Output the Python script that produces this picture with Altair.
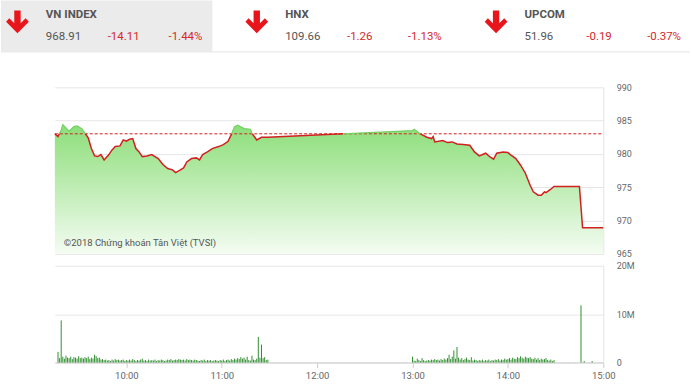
import altair as alt
import pandas as pd

REF = 983.02  # previous close (968.91 + 14.11)

indices = ["VN INDEX", "HNX", "UPCOM"]
index_values = ["968.91", "109.66", "51.96"]
index_changes = ["-14.11", "-1.26", "-0.19"]
index_pcts = ["-1.44%", "-1.13%", "-0.37%"]

price_times = [
    "09:15", "09:17", "09:19", "09:20", "09:22", "09:24", "09:27", "09:29", "09:32", "09:34",
    "09:36", "09:38", "09:40", "09:42", "09:44", "09:46", "09:49", "09:51", "09:53", "09:56",
    "09:58", "10:00", "10:02", "10:04", "10:06", "10:08", "10:10", "10:13", "10:16", "10:18",
    "10:20", "10:23", "10:26", "10:29", "10:31", "10:34", "10:36", "10:38", "10:41", "10:44",
    "10:46", "10:48", "10:51", "10:54", "10:58", "11:01", "11:04", "11:06", "11:08", "11:10",
    "11:14", "11:18", "11:19", "11:22", "11:25", "11:29",
    "13:00", "13:01", "13:05", "13:09", "13:12", "13:13", "13:14", "13:19", "13:22", "13:25",
    "13:28", "13:32", "13:36", "13:39", "13:42", "13:46", "13:49", "13:51", "13:53", "13:57",
    "14:00", "14:02", "14:05", "14:08", "14:11", "14:14", "14:16", "14:19", "14:21", "14:23",
    "14:24", "14:27", "14:29", "14:45", "14:47", "15:00",
]
price_values = [
    983.0, 982.6, 983.6, 984.4, 983.9, 983.4, 984.1, 984.2, 983.8, 983.1,
    982.4, 980.8, 979.7, 979.6, 979.9, 979.1, 979.9, 980.6, 981.1, 981.2,
    982.1, 981.9, 982.2, 982.3, 980.8, 980.3, 979.6, 979.7, 979.9, 979.6,
    979.3, 978.4, 977.8, 977.6, 977.2, 977.6, 977.9, 978.8, 979.3, 979.4,
    979.1, 979.9, 980.3, 980.8, 981.1, 981.4, 981.9, 982.9, 984.1, 984.3,
    983.8, 983.7, 983.1, 982.1, 982.5, 982.5,
    983.5, 983.7, 983.0, 982.5, 982.3, 982.6, 981.8, 982.0, 981.7, 981.8,
    981.5, 981.4, 981.3, 980.3, 979.7, 980.1, 979.5, 979.2, 980.1, 980.3,
    980.2, 979.8, 979.3, 978.3, 977.1, 975.3, 974.3, 973.8, 973.8, 974.3,
    974.2, 974.7, 975.1, 975.1, 968.9, 968.9,
]

# volume in millions, one bar per minute
vol_am_start = "09:17"
vol_am = [
    2.2, 0.9, 8.7, 1.2, 0.8, 1.4, 1.0, 0.9, 1.2, 0.7, 1.1, 1.0, 0.8, 1.3, 0.9,
    1.0, 0.8, 1.1, 0.9, 1.2, 0.7, 1.0, 0.8, 1.6, 1.3, 0.9, 1.0, 0.6, 0.7, 0.5,
    0.6, 0.4, 0.5, 0.3, 0.6, 0.4, 0.7, 0.5, 0.6, 0.4, 0.5, 0.6, 0.3, 0.5, 0.4,
    0.6, 0.4, 0.7, 0.5, 0.3, 0.5, 0.4, 0.6, 0.8, 0.4, 0.5, 0.3, 0.6, 0.4, 0.5,
    0.4, 0.6, 0.3, 0.5, 0.4, 0.6, 0.5, 0.3, 0.4, 0.6, 0.5, 0.7, 0.4, 0.5, 0.6,
    0.5, 0.7, 0.6, 0.5, 0.6, 0.4, 0.7, 0.5, 0.6, 0.5, 0.4, 0.6, 0.5, 0.4, 0.3,
    0.5, 0.4, 0.6, 0.3, 0.5, 0.4, 0.5, 0.3, 0.4, 0.5, 0.4, 0.3, 0.5, 0.4, 0.6,
    0.3, 0.5, 0.6, 0.4, 0.7, 0.5, 0.8, 0.6, 0.9, 0.7, 1.1, 0.8, 1.0, 0.6, 1.2,
    0.5, 0.4, 1.4, 0.6, 0.5, 0.8, 5.3, 1.0, 3.7, 0.9, 1.1, 0.5, 0.6,
]
vol_pm_start = "13:00"
vol_pm = [
    1.2, 0.4, 0.3, 0.8, 0.5, 0.3, 0.9, 0.5, 0.3, 0.4, 0.5, 0.4, 0.6, 0.5, 0.7,
    0.5, 0.6, 0.4, 0.7, 0.5, 0.8, 0.6, 0.9, 1.6, 0.7, 1.2, 2.5, 0.8, 3.2, 1.0,
    0.6, 0.9, 0.5, 0.7, 1.0, 0.6, 0.5, 1.1, 0.4, 0.6, 0.5, 0.3, 0.5, 0.4, 0.6,
    0.3, 0.5, 0.4, 0.6, 0.3, 0.5, 0.4, 0.6, 0.5, 0.7, 0.4, 0.6, 0.5, 0.8, 0.6,
    0.7, 0.9, 0.6, 1.0, 0.8, 0.7, 1.1, 0.9, 1.3, 1.0, 0.8, 1.2, 1.0, 0.9, 1.1,
    0.8, 0.7, 1.0, 0.6, 0.9, 0.5, 0.8, 0.6, 0.7, 0.9, 0.5, 0.4, 0.6, 0.3, 0.5,
]
vol_atc_times = ["14:46", "14:48", "14:53"]
vol_atc = [11.8, 0.3, 0.3]

copyright_text = "©2018 Chứng khoán Tân Việt (TVSI)"


def to_min(s):
    h, m = s.split(":")
    return int(h) * 60 + int(m)


# ---- price table (split at the reference level so each side gets its colour)
rows = []
tt = [to_min(s) for s in price_times]
for i, (t, v) in enumerate(zip(tt, price_values)):
    if i > 0:
        v0 = price_values[i - 1]
        if (v0 - REF) * (v - REF) < 0:
            f = (REF - v0) / (v - v0)
            rows.append({"t": tt[i - 1] + f * (t - tt[i - 1]), "v": REF})
    rows.append({"t": t, "v": v})
price_df = pd.DataFrame(rows)
price_df["base"] = 965.0
price_df["red"] = price_df["v"].where(price_df["v"] <= REF + 1e-9)
price_df["green"] = price_df["v"].where(price_df["v"] >= REF - 1e-9)

# ---- volume table
vt, vv = [], []
s = to_min(vol_am_start)
for i, v in enumerate(vol_am):
    vt.append(s + i); vv.append(v)
s = to_min(vol_pm_start)
for i, v in enumerate(vol_pm):
    vt.append(s + i); vv.append(v)
for t, v in zip(vol_atc_times, vol_atc):
    vt.append(to_min(t)); vv.append(v)
vol_df = pd.DataFrame({"t": vt, "vol": vv})

W = 550
H1 = 167
H2 = 97
OX, OY = 54, 87  # page position of the price plot origin
FONT = "Roboto"

xscale = alt.Scale(domain=[555, 900], nice=False, zero=False)
pscale = alt.Scale(domain=[965, 990], nice=False, zero=False)
paxis = alt.Axis(orient="right", values=[965, 970, 975, 980, 985, 990],
                 grid=True, gridColor="#e6e6e6", domain=True, labelOverlap=False,
                 domainColor="#e3e3e3", ticks=False, labelPadding=13,
                 labelFontSize=9, labelColor="#666666", labelFont=FONT,
                 title=None)
xnone = alt.X("t:Q", scale=xscale, axis=None)


def py(field):
    return alt.Y(field, type="quantitative", scale=pscale, axis=paxis)


grad = alt.Gradient(
    gradient="linear",
    stops=[alt.GradientStop(color="#f4fcf2", offset=0),
           alt.GradientStop(color="#8cde79", offset=1)],
    x1=0, x2=0, y1=1, y2=0,
)

area = alt.Chart(price_df).mark_area(color=grad, opacity=1).encode(
    x=xnone, y=py("v"), y2=alt.Y2("base"))

red_line = alt.Chart(price_df).mark_line(color="#d21f1f", strokeWidth=1.5).encode(
    x=xnone, y=py("red"))
green_line = alt.Chart(price_df).mark_line(color="#74d062", strokeWidth=1.2).encode(
    x=xnone, y=py("green"))

ref_rule = alt.Chart(pd.DataFrame({"ref": [REF]})).mark_rule(
    color="#d21f1f", strokeDash=[3, 2], strokeWidth=1).encode(
    y=py("ref"), x=alt.value(0), x2=alt.value(W))

copy_txt = alt.Chart(pd.DataFrame({"label": [copyright_text]})).mark_text(
    align="left", baseline="middle", fontSize=9.5, font=FONT, color="#555555").encode(
    text="label:N", x=alt.value(63 - OX), y=alt.value(243 - OY))

# ---- header
header_layers = []
header_layers.append(
    alt.Chart(pd.DataFrame({"a": [0]})).mark_rect(color="#ebebeb").encode(
        x=alt.value(0 - OX), x2=alt.value(212 - OX), y=alt.value(0 - OY), y2=alt.value(51 - OY)))
header_layers.append(
    alt.Chart(pd.DataFrame({"a": [0]})).mark_rule(color="#e4e4e4", strokeWidth=1).encode(
        x=alt.value(0 - OX), x2=alt.value(691 - OX), y=alt.value(51.5 - OY)))

arrow_path = ("M -0.28 -1 L 0.28 -1 L 0.28 0.12 L 0.72 -0.32 L 1 -0.02 L 0 1 "
              "L -1 -0.02 L -0.72 -0.32 L -0.28 0.12 Z")
arrow_x = [16.5, 256.5, 496.5]
offsets = [0, 240, 480]
for i in range(3):
    o = offsets[i]
    header_layers.append(
        alt.Chart(pd.DataFrame({"a": [0]})).mark_point(
            shape=arrow_path, filled=True, color="#e8161b", opacity=1, size=520, strokeWidth=0).encode(
            x=alt.value(arrow_x[i] - OX), y=alt.value(21.5 - OY)))
    header_layers.append(
        alt.Chart(pd.DataFrame({"label": [indices[i]]})).mark_text(
            align="left", baseline="middle", fontSize=11.5, fontWeight="bold", font=FONT,
            color="#555555").encode(text="label:N", x=alt.value(45 + o - OX), y=alt.value(14 - OY)))
    header_layers.append(
        alt.Chart(pd.DataFrame({"label": [index_values[i]]})).mark_text(
            align="left", baseline="middle", fontSize=11.5, font=FONT,
            color="#555555").encode(text="label:N", x=alt.value(45 + o - OX), y=alt.value(37 - OY)))
    header_layers.append(
        alt.Chart(pd.DataFrame({"label": [index_changes[i]]})).mark_text(
            align="left", baseline="middle", fontSize=11.5, font=FONT,
            color="#d42a2a").encode(text="label:N", x=alt.value(107 + o - OX), y=alt.value(37 - OY)))
    header_layers.append(
        alt.Chart(pd.DataFrame({"label": [index_pcts[i]]})).mark_text(
            align="left", baseline="middle", fontSize=11.5, font=FONT,
            color="#d42a2a").encode(text="label:N", x=alt.value(168 + o - OX), y=alt.value(37 - OY)))

price_chart = alt.layer(
    *header_layers, area, ref_rule, red_line, green_line, copy_txt
).properties(width=W, height=H1)

# ---- volume panel
vol_chart = alt.Chart(vol_df).mark_rule(color="#2f8f2f", strokeWidth=1).encode(
    x=alt.X("t:Q", scale=xscale,
            axis=alt.Axis(values=[600, 660, 720, 780, 840, 900],
                          labelExpr="floor(datum.value / 60) + ':00'",
                          grid=False, domainColor="#cccccc", tickColor="#cccccc",
                          tickSize=5, labelPadding=3, labelFontSize=9.5,
                          labelColor="#666666", labelFont=FONT, labelFlush=False,
                          title=None)),
    y=alt.Y("vol:Q", scale=alt.Scale(domain=[0, 20], nice=False),
            axis=alt.Axis(orient="right", values=[0, 10, 20],
                          labelExpr="datum.value == 0 ? '0' : datum.value + 'M'",
                          grid=True, gridColor="#e6e6e6", domain=True, labelOverlap=False,
                          domainColor="#e3e3e3", ticks=False, labelPadding=13,
                          labelFontSize=9, labelColor="#666666", labelFont=FONT,
                          title=None)),
    y2=alt.datum(0),
).properties(width=W, height=H2)

chart = alt.vconcat(price_chart, vol_chart, spacing=12, bounds="flush").properties(
    padding={"left": 0, "top": 0, "right": 0, "bottom": 0},
    background="white",
).configure_view(stroke=None)

chart.save("out.html", embed_options={"renderer": "svg", "actions": False})
